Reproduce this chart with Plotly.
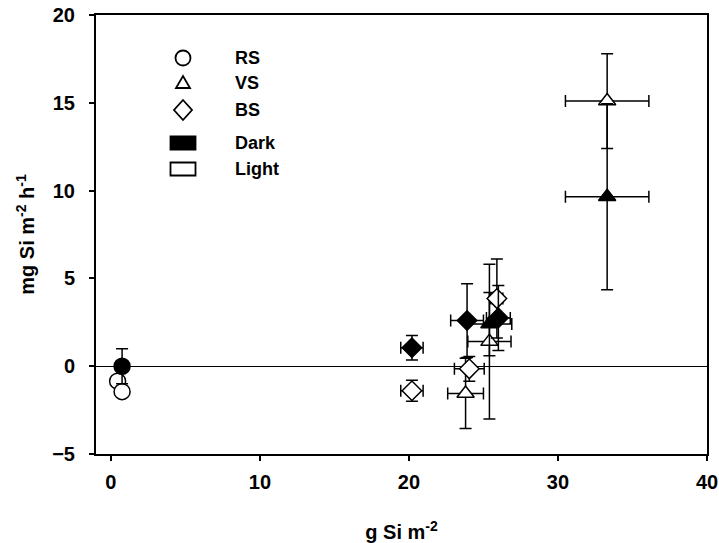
import plotly.graph_objects as go

# ---- data: x = g Si m-2, y = mg Si m-2 h-1 (mean ± error) ----
rs_light_x = [0.45, 0.75]
rs_light_y = [-0.85, -1.45]
rs_light_xerr = [0.2, 0.2]
rs_light_yerr = [0.2, 0.2]

rs_dark_x = [0.75]
rs_dark_y = [0.0]
rs_dark_xerr = [0.2]
rs_dark_yerr = [1.0]

vs_light_x = [23.8, 25.4, 33.3]
vs_light_y = [-1.55, 1.4, 15.1]
vs_light_xerr = [1.2, 1.45, 2.8]
vs_light_yerr = [2.0, 4.4, 2.7]

vs_dark_x = [25.4, 33.3]
vs_dark_y = [2.4, 9.65]
vs_dark_xerr = [1.5, 2.8]
vs_dark_yerr = [1.8, 5.3]

bs_light_x = [20.2, 24.05, 25.9]
bs_light_y = [-1.4, -0.15, 3.85]
bs_light_xerr = [0.75, 1.0, 0.4]
bs_light_yerr = [0.6, 0.7, 2.25]

bs_dark_x = [20.2, 23.9, 26.0]
bs_dark_y = [1.05, 2.6, 2.75]
bs_dark_xerr = [0.75, 1.1, 0.8]
bs_dark_yerr = [0.7, 2.1, 1.85]

x_ticks = [0, 10, 20, 30, 40]
y_ticks = [-5, 0, 5, 10, 15, 20]

legend_labels = ["RS", "VS", "BS", "Dark", "Light"]

FONT = "Liberation Sans, Arial, sans-serif"
BLACK = "black"


def err(vals):
    return dict(type="data", array=vals, visible=True, color=BLACK,
                thickness=1.5, width=6)


def series(x, y, xe, ye, symbol, size, filled):
    return go.Scatter(
        x=x, y=y, mode="markers",
        error_x=err(xe), error_y=err(ye),
        marker=dict(symbol=symbol, size=size,
                    color=BLACK if filled else "white",
                    line=dict(color=BLACK, width=1.5)),
        showlegend=False, hoverinfo="x+y",
    )


fig = go.Figure()
fig.add_trace(series(rs_light_x, rs_light_y, rs_light_xerr, rs_light_yerr, "circle", 16, False))
fig.add_trace(series(rs_dark_x, rs_dark_y, rs_dark_xerr, rs_dark_yerr, "circle", 16, True))
fig.add_trace(series(vs_light_x, vs_light_y, vs_light_xerr, vs_light_yerr, "triangle-up", 15, False))
fig.add_trace(series(vs_dark_x, vs_dark_y, vs_dark_xerr, vs_dark_yerr, "triangle-up", 15, True))
fig.add_trace(series(bs_light_x, bs_light_y, bs_light_xerr, bs_light_yerr, "diamond", 15, False))
fig.add_trace(series(bs_dark_x, bs_dark_y, bs_dark_xerr, bs_dark_yerr, "diamond", 15, True))

# ---- hand-built key in the upper-left corner of the plot area ----
L, T, W, H = 96, 15, 611, 439


def px(xp):
    return (xp - L) / W


def py(yp):
    return (T + H - yp) / H


key_x = px(183)
key_rows = [58, 83, 110, 143, 169]
glyph_line = dict(color=BLACK, width=1.8)
glyphs = [
    dict(type="circle", x0=-7.5, x1=7.5, y0=-7.5, y1=7.5, fillcolor="white"),
    dict(type="path", path="M-7,-5 L7,-5 L0,7 Z", fillcolor="white"),
    dict(type="path", path="M0,10 L9,0 L0,-10 L-9,0 Z", fillcolor="white"),
    dict(type="rect", x0=-12.5, x1=12.5, y0=-6.5, y1=6.5, fillcolor=BLACK),
    dict(type="rect", x0=-12.5, x1=12.5, y0=-6.5, y1=6.5, fillcolor="white"),
]
for g, row, label in zip(glyphs, key_rows, legend_labels):
    shape = dict(xref="paper", yref="paper", xsizemode="pixel", ysizemode="pixel",
                 xanchor=key_x, yanchor=py(row), line=glyph_line, layer="above")
    shape.update(g)
    fig.add_shape(**shape)
    fig.add_annotation(x=px(233), y=py(row), xref="paper", yref="paper",
                       text=label, showarrow=False, xanchor="left", yanchor="middle",
                       font=dict(family=FONT, size=18, color=BLACK, weight="bold"))

axis_common = dict(
    showline=True, linecolor=BLACK, linewidth=2, mirror=True,
    ticks="outside", ticklen=5, tickwidth=2, tickcolor=BLACK,
    showgrid=False, automargin=False,
    tickfont=dict(family=FONT, size=20, color=BLACK, weight="bold"),
)

fig.update_layout(
    width=719, height=543,
    margin=dict(l=L, r=719 - L - W, t=T, b=543 - T - H),
    paper_bgcolor="white", plot_bgcolor="white",
    xaxis=dict(range=[-1, 40], tickvals=x_ticks, zeroline=False,
               ticklabelstandoff=4,
               title=dict(text="g Si m<sup>-2</sup>", standoff=33,
                          font=dict(family=FONT, size=20, color=BLACK, weight="bold")),
               **axis_common),
    yaxis=dict(range=[-5, 20], tickvals=y_ticks,
               zeroline=True, zerolinecolor=BLACK, zerolinewidth=1,
               ticklabelstandoff=10,
               title=dict(text="mg Si m<sup>-2</sup> h<sup>-1</sup>", standoff=12,
                          font=dict(family=FONT, size=20, color=BLACK, weight="bold")),
               **axis_common),
)

fig.write_html("out.html")
